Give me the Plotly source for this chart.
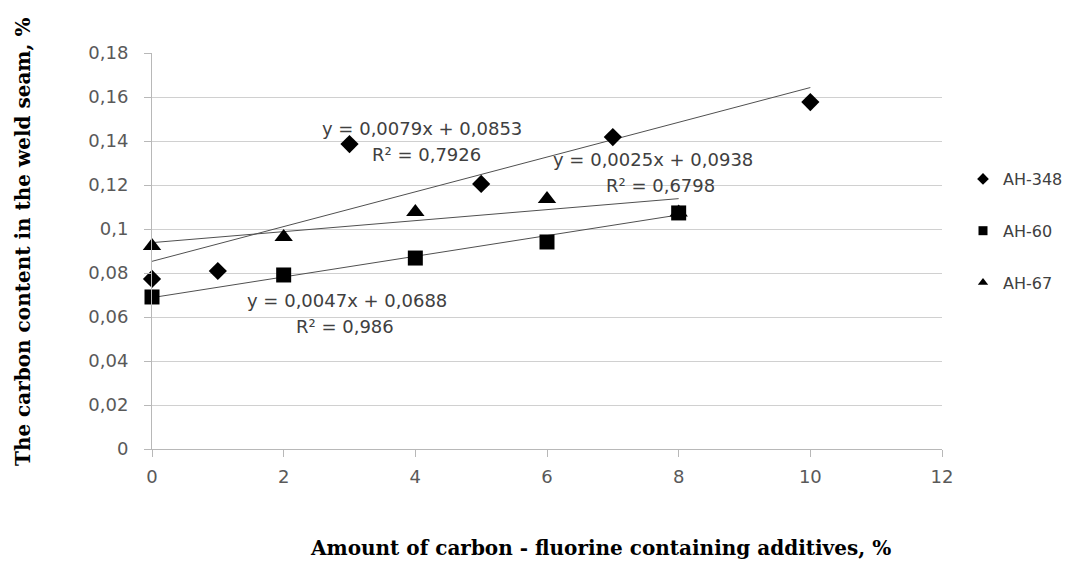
import plotly.graph_objects as go

# Data
x_348 = [0, 1, 3, 5, 7, 10]
y_348 = [0.0773, 0.0809, 0.1386, 0.1205, 0.1418, 0.1577]
x_60 = [0, 2, 4, 6, 8]
y_60 = [0.0691, 0.0791, 0.0868, 0.0941, 0.1073]
x_67 = [0, 2, 4, 6, 8]
y_67 = [0.0923, 0.0964, 0.1077, 0.1136, 0.1075]

series_names = ["AH-348", "AH-60", "AH-67"]
# trendline coefficients (slope, intercept) and x-extent
trend_348 = (0.0079, 0.0853)
trend_60 = (0.0047, 0.0688)
trend_67 = (0.0025, 0.0938)
trend_x_348 = [0, 10]
trend_x_60 = [0, 8]
trend_x_67 = [0, 8]
eq_lines = ["y = 0,0079x + 0,0853", "R² = 0,7926",
            "y = 0,0025x + 0,0938", "R² = 0,6798",
            "y = 0,0047x + 0,0688", "R² = 0,986"]

x_ticks = [0, 2, 4, 6, 8, 10, 12]
y_ticks = [0, 0.02, 0.04, 0.06, 0.08, 0.1, 0.12, 0.14, 0.16, 0.18]

W, H = 1071, 564
pl, pr, pt, pb = 152, 129, 53, 115
pw, ph = W - pl - pr, H - pt - pb

def px(xp):
    return (xp - pl) / pw

def py(yp):
    return (H - pb - yp) / ph

fig = go.Figure()

def line(tx, coef):
    return [coef[0] * v + coef[1] for v in tx]

trend_color = "#505050"
for tx, coef in [(trend_x_348, trend_348), (trend_x_67, trend_67), (trend_x_60, trend_60)]:
    fig.add_trace(go.Scatter(x=tx, y=line(tx, coef), mode="lines", cliponaxis=False,
                             line=dict(color=trend_color, width=1), showlegend=False, hoverinfo="skip"))

fig.add_trace(go.Scatter(x=x_67, y=y_67, mode="markers", showlegend=False, cliponaxis=False,
                         marker=dict(symbol="triangle-up", size=16, color="black")))
fig.add_trace(go.Scatter(x=x_60, y=y_60, mode="markers", showlegend=False, cliponaxis=False,
                         marker=dict(symbol="square", size=15, color="black")))
fig.add_trace(go.Scatter(x=x_348, y=y_348, mode="markers", showlegend=False, cliponaxis=False,
                         marker=dict(symbol="diamond", size=14, color="black")))

# legend entries
for name, sym in zip(series_names, ["diamond", "square", "triangle-up"]):
    fig.add_trace(go.Scatter(x=[None], y=[None], mode="markers", name=name, legendgroup=name,
                             marker=dict(symbol=sym, size=9, color="black")))

tick_font = dict(family="DejaVu Sans, sans-serif", size=18, color="#595959")
axis_col = "#b8b8b8"
fig.update_layout(
    width=W, height=H,
    margin=dict(l=pl, r=pr, t=pt, b=pb, autoexpand=False),
    plot_bgcolor="white", paper_bgcolor="white",
    separators=",.",
    showlegend=True,
    legend=dict(x=px(963), y=py(162), xanchor="left", yanchor="top", tracegroupgap=28,
                font=dict(family="DejaVu Sans, sans-serif", size=16, color="#404040"),
                itemwidth=30, bgcolor="rgba(0,0,0,0)"),
    xaxis=dict(range=[0, 12], tickvals=x_ticks, showgrid=False, showline=True, linecolor=axis_col,
               ticks="outside", tickcolor=axis_col, ticklen=7, tickfont=tick_font, zeroline=False,
               ticklabelstandoff=4),
    yaxis=dict(range=[0, 0.18], tickvals=y_ticks, showgrid=True, gridcolor="#d0d0d0", showline=True,
               linecolor=axis_col, ticks="outside", tickcolor=axis_col, ticklen=7, tickfont=tick_font,
               zeroline=False, ticklabelstandoff=12),
)

ann_font = dict(family="DejaVu Sans, sans-serif", size=18, color="#404040")
ann_pos = [(422, 128), (426, 154), (653, 159), (660, 185), (347, 300), (345, 326)]
for txt, (ax, ay) in zip(eq_lines, ann_pos):
    fig.add_annotation(x=px(ax), y=py(ay), xref="paper", yref="paper", text=txt, showarrow=False,
                       font=ann_font, align="center", xanchor="center", yanchor="middle")

title_font = dict(family="DejaVu Serif, serif", size=20, color="black")
fig.add_annotation(x=px(600), y=py(548), xref="paper", yref="paper",
                   text="<b>Amount of carbon - fluorine containing additives, %</b>",
                   showarrow=False, font=title_font, xanchor="center", yanchor="middle")
fig.add_annotation(x=px(23), y=py(242), xref="paper", yref="paper",
                   text="<b>The carbon content in the weld seam, %</b>", showarrow=False,
                   font=title_font, textangle=-90, xanchor="center", yanchor="middle")

fig.write_html("out.html")
